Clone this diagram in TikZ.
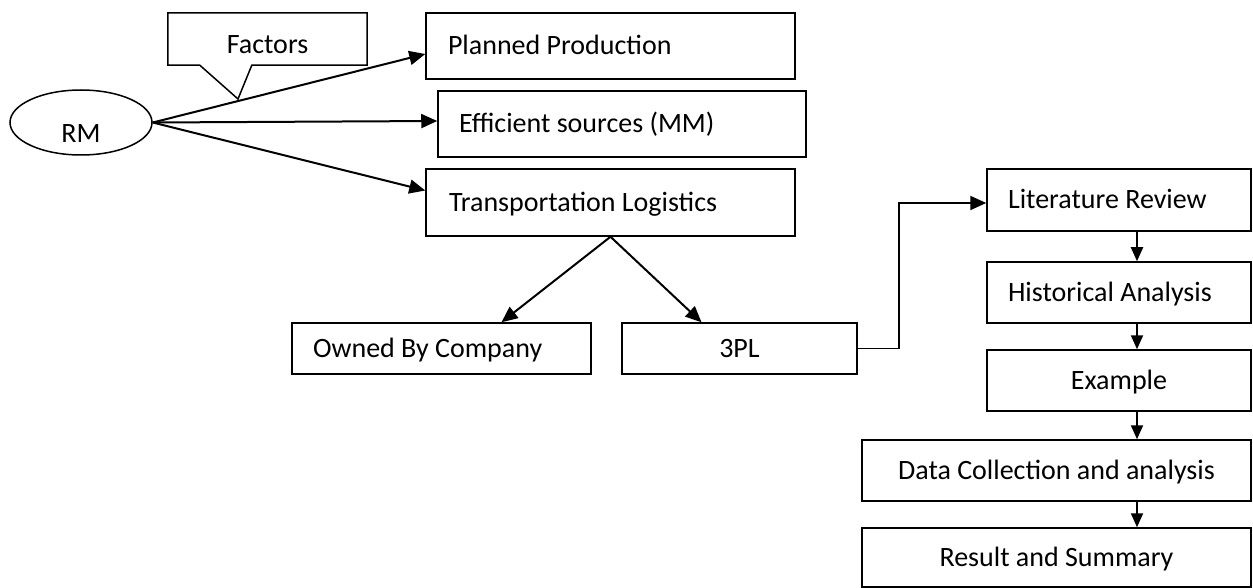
\documentclass[tikz,border=0pt]{standalone}
\usepackage{fontspec}
\setmainfont{Carlito}
\usetikzlibrary{shapes.geometric,arrows.meta}
\begin{document}
\begin{tikzpicture}[x=1pt,y=-1pt,font=\fontsize{28}{32}\selectfont,
  box/.style={draw,line width=1.5pt,rectangle,inner sep=0pt,text height=22pt,text depth=4pt},
  arr/.style={line width=2pt,-{Triangle[length=16pt,width=14pt]}},
  sarr/.style={line width=2pt,-{Triangle[length=14pt,width=12pt]}}]
\useasboundingbox (0,0) rectangle (1253,588);

\node[draw,ellipse,line width=1.5pt,inner sep=0pt,minimum width=142pt,minimum height=65pt,text height=41pt,text depth=0pt] (rm) at (81,122.5) {RM};
\node[inner sep=0pt,minimum width=199pt,minimum height=52pt,text height=31pt,text depth=2pt] (fac) at (267.5,39) {Factors};
\coordinate (factip) at (238,99);
\draw[line width=1.5pt] (fac.south west) -- ([xshift=32pt]fac.south west) -- (factip) -- ([xshift=84pt]fac.south west) -- (fac.south east) -- (fac.north east) -- (fac.north west) -- cycle;

\node[box,align=flush left,inner xsep=22pt,text width=325pt,minimum height=66pt] (plan) at (610.5,46) {Planned Production};
\node[box,align=flush left,inner xsep=21pt,text width=326pt,minimum height=66pt] (eff) at (622,124) {Efficient sources (MM)};
\node[box,align=flush left,inner xsep=23pt,text width=323pt,minimum height=67pt] (trans) at (610.5,202.5) {Transportation Logistics};
\node[box,align=flush left,inner xsep=21pt,text width=257pt,minimum height=51pt] (owned) at (441.5,348.5) {Owned By Company};
\node[box,minimum width=235pt,minimum height=51pt] (tpl) at (739.5,348.5) {3PL};

\draw[arr] (rm.east) -- ([yshift=-8pt]plan.west);
\draw[arr] (rm.east) -- ([yshift=3pt]eff.west);
\draw[arr] (rm.east) -- ([yshift=12pt]trans.west);
\draw[arr] (trans.south) -- ([xshift=60pt]owned.north);
\draw[arr] (trans.south) -- ([xshift=-38pt]tpl.north);

\node[box,align=flush left,inner xsep=21pt,text width=222pt,minimum height=62pt] (lit) at (1119,200) {Literature Review};
\node[box,align=flush left,inner xsep=21pt,text width=222pt,minimum height=61pt] (hist) at (1119,292.5) {Historical Analysis};
\node[box,minimum width=264pt,minimum height=61pt] (ex) at (1119,380.5) {Example};
\node[box,minimum width=389pt,minimum height=61pt] (data) at (1056.5,470.5) {Data Collection and analysis};
\node[box,minimum width=389pt,minimum height=59pt] (res) at (1056.5,557.5) {Result and Summary};

\coordinate (litin) at ([yshift=-3pt]lit.west);
\draw[line width=1.5pt] (tpl.east) -- ++(41,0) coordinate (bend) -- (bend |- litin);
\draw[arr] ([xshift=-0.75pt]bend |- litin) -- (litin);

\coordinate (ax) at (1137,0);
\draw[sarr] (lit.south -| ax) -- (hist.north -| ax);
\draw[sarr] (hist.south -| ax) -- (ex.north -| ax);
\draw[sarr] (ex.south -| ax) -- (data.north -| ax);
\draw[sarr] (data.south -| ax) -- (res.north -| ax);
\end{tikzpicture}
\end{document}
